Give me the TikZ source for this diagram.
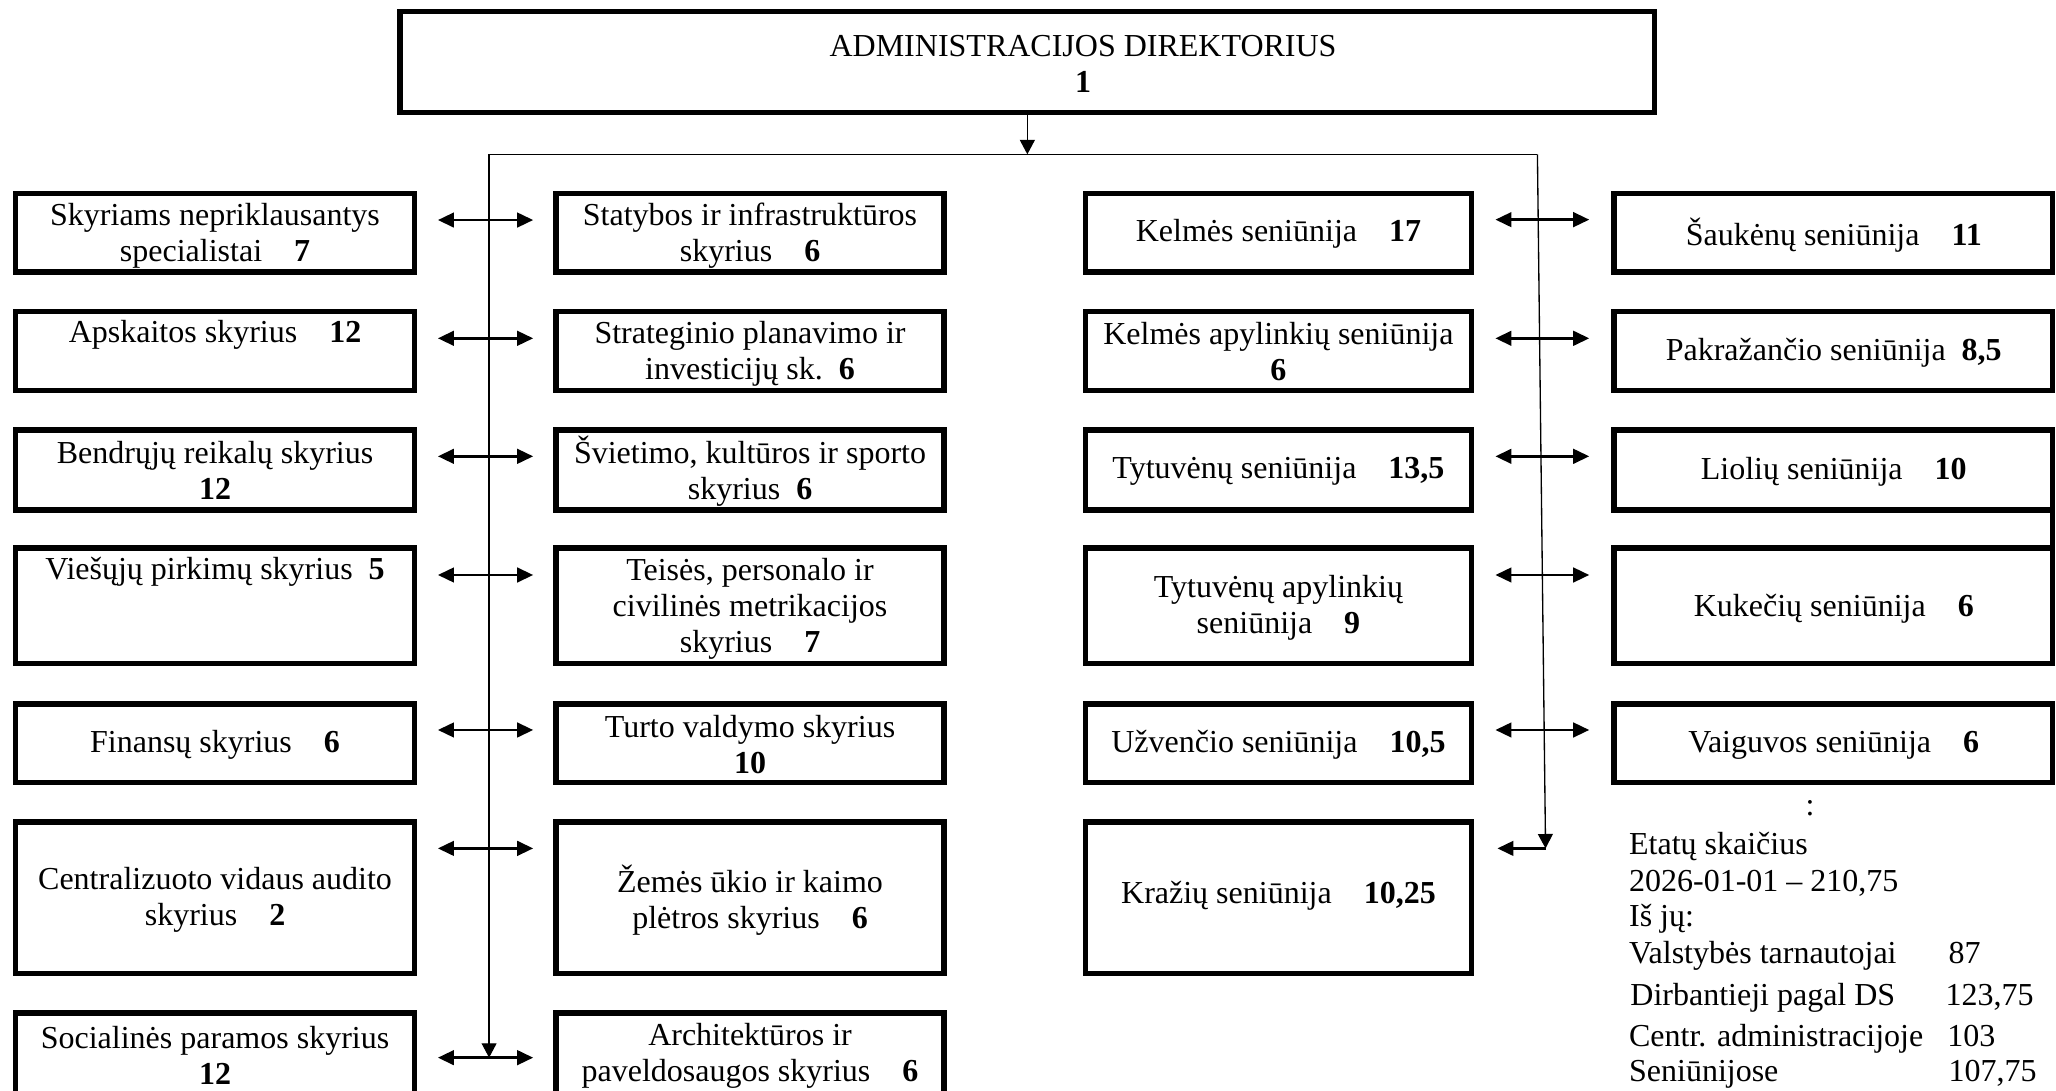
\documentclass[tikz,border=0pt]{standalone}
\usepackage{fontspec}
\setmainfont{Liberation Serif}
\usetikzlibrary{arrows.meta,fit}
\tikzset{
  box/.style={draw, line width=2pt, inner sep=0pt, outer sep=0pt},
  lbl/.style={align=center, font=\fontsize{12}{13.5}\selectfont, inner sep=0pt},
  txt/.style={font=\fontsize{12}{13.5}\selectfont, inner sep=0pt, anchor=base west},
  dbl/.style={line width=0.9pt, {Triangle[length=6pt,width=5.5pt]}-{Triangle[length=6pt,width=5.5pt]}},
  lefttip/.style={line width=0.9pt, -{Triangle[length=6pt,width=5.5pt]}},
  conn/.style={line width=0.5pt},
  tipdown/.style={-{Triangle[length=5.4pt,width=5.6pt]}}
}
\begin{document}
\begin{tikzpicture}[x=0.4917pt,y=-0.4917pt]
\useasboundingbox (0,0) rectangle (1568,832);
\clip (0,0) rectangle (1568,832);

% top box
\node[box, fit={(305,9)(1262,86)}] (dir) {};
\node[lbl] (dirt) at (826,48.7) {ADMINISTRACIJOS DIREKTORIUS\\\textbf{1}};

% column 1
\node[box, fit={(12,147.5)(316,207.5)}] (c11) {};
\node[box, fit={(12,237.7)(316,298)}] (c12) {};
\node[box, fit={(12,328)(316,389)}] (c13) {};
\node[box, fit={(12,418)(316,506)}] (c14) {};
\node[box, fit={(12,537)(316,597)}] (c15) {};
\node[box, fit={(12,627)(316,742.5)}] (c16) {};
\node[box, fit={(12,772.6)(316,880)}] (c17) {};
\node[lbl] (t11) at (164,179.5) {Skyriams nepriklausantys\\specialistai\quad\textbf{7}};
\node[lbl] (t12) at (164,255.5) {Apskaitos skyrius\quad\textbf{12}};
\node[lbl] (t13) at (164,359) {Bendrųjų reikalų skyrius\\\textbf{12}};
\node[lbl] (t14) at (164,436) {Viešųjų pirkimų skyrius\enspace\textbf{5}};
\node[lbl] (t15) at (164,568) {Finansų skyrius\quad\textbf{6}};
\node[lbl] (t16) at (164,686.4) {Centralizuoto vidaus audito\\skyrius\quad\textbf{2}};
\node[lbl] (t17) at (164,805) {Socialinės paramos skyrius\\\textbf{12}};

% column 2
\node[box, fit={(424,147.5)(720,207.5)}] (c21) {};
\node[box, fit={(424,237.7)(720,298)}] (c22) {};
\node[box, fit={(424,328)(720,389)}] (c23) {};
\node[box, fit={(424,418)(720,506)}] (c24) {};
\node[box, fit={(424,537)(720,597)}] (c25) {};
\node[box, fit={(424,627)(720,742.5)}] (c26) {};
\node[box, fit={(424,772.6)(720,880)}] (c27) {};
\node[lbl] (t21) at (572,179.5) {Statybos ir infrastruktūros\\skyrius\quad\textbf{6}};
\node[lbl] (t22) at (572,269.5) {Strateginio planavimo ir\\investicijų sk.\enspace\textbf{6}};
\node[lbl] (t23) at (572,359) {Švietimo, kultūros ir sporto\\skyrius\enspace\textbf{6}};
\node[lbl] (t24) at (572,464) {Teisės, personalo ir\\civilinės metrikacijos\\skyrius\quad\textbf{7}};
\node[lbl] (t25) at (572,567.5) {Turto valdymo skyrius\\\textbf{10}};
\node[lbl] (t26) at (572,686.4) {Žemės ūkio ir kaimo\\plėtros skyrius\quad\textbf{6}};
\node[lbl] (t27) at (572,805) {Architektūros ir\\paveldosaugos skyrius\quad\textbf{6}};

% column 3
\node[box, fit={(828,147.5)(1122,207.5)}] (c31) {};
\node[box, fit={(828,237.7)(1122,298)}] (c32) {};
\node[box, fit={(828,328)(1122,389)}] (c33) {};
\node[box, fit={(828,418)(1122,506)}] (c34) {};
\node[box, fit={(828,537)(1122,597)}] (c35) {};
\node[box, fit={(828,627)(1122,742.5)}] (c36) {};
\node[lbl] (t31) at (975,178) {Kelmės seniūnija\quad\textbf{17}};
\node[lbl] (t32) at (975,268) {Kelmės apylinkių seniūnija\\\textbf{6}};
\node[lbl] (t33) at (975,359.7) {Tytuvėnų seniūnija\quad\textbf{13,5}};
\node[lbl] (t34) at (975,463.3) {Tytuvėnų apylinkių\\seniūnija\quad\textbf{9}};
\node[lbl] (t35) at (975,568.2) {Užvenčio seniūnija\quad\textbf{10,5}};
\node[lbl] (t36) at (975,683) {Kražių seniūnija\quad\textbf{10,25}};

% column 4
\node[box, fit={(1231,147.5)(1565.5,207.5)}] (c41) {};
\node[box, fit={(1231,237.7)(1565.5,298)}] (c42) {};
\node[box, fit={(1231,328)(1565.5,389)}] (c43) {};
\node[box, fit={(1231,418)(1565.5,506)}] (c44) {};
\node[box, fit={(1231,537)(1565.5,597)}] (c45) {};
\node[lbl] (t41) at (1398.5,179.2) {Šaukėnų seniūnija\quad\textbf{11}};
\node[lbl] (t42) at (1398.5,269) {Pakražančio seniūnija\enspace\textbf{8,5}};
\node[lbl] (t43) at (1398.5,359.7) {Liolių seniūnija\quad\textbf{10}};
\node[lbl] (t44) at (1398.5,464) {Kukečių seniūnija\quad\textbf{6}};
\node[lbl] (t45) at (1398.5,568.2) {Vaiguvos seniūnija\quad\textbf{6}};
\draw[line width=2pt] (c43.south east) -- (c44.north east);

% main connectors
\coordinate (jn) at (783.5,117.7);
\coordinate (lt) at (373,117.7);
\coordinate (rt) at (1172.5,117.7);
\coordinate (lb) at (373,806.6);
\coordinate (rb) at (1178.7,647);
\coordinate (kr) at (1142,647);
\draw[conn, tipdown] (dir) -- (jn);
\draw[conn] (lt) -- (rt);
\draw[conn, tipdown] (lt) -- (lb);
\draw[conn, tipdown] (rt) -- (rb);
\draw[lefttip] (rb) -- (kr);

% double arrows
\foreach \n/\y in {1/167.8,2/258,3/348,4/438.5,5/556.7,6/647,7/806.6} {
  \coordinate (L\n a) at (334,\y);
  \coordinate (L\n b) at (406.6,\y);
  \draw[dbl] (L\n a) -- (L\n b);
}
\foreach \n/\y in {1/167.5,2/258,3/348,4/438.5,5/556.7} {
  \coordinate (R\n a) at (1140.5,\y);
  \coordinate (R\n b) at (1212,\y);
  \draw[dbl] (R\n a) -- (R\n b);
}

% summary text
\node[lbl, anchor=base] (colon) at (1380.4,621.6) {:};
\node[txt] (e1) at (1242,652) {Etatų skaičius};
\node[txt] (e2) at (1242,679.5) {2026-01-01 – 210,75};
\node[txt] (e3) at (1242,706.7) {Iš jų:};
\node[txt] (e4) at (1242,735) {Valstybės tarnautojai};
\node[txt] (e5) at (1243,767) {Dirbantieji pagal DS};
\node[txt] (e6) at (1242,798) {Centr. administracijoje};
\node[txt] (e7) at (1242,825) {Seniūnijose};
\node[txt] (n4) at (1485.6,735) {87};
\node[txt] (n5) at (1483.4,767) {123,75};
\node[txt] (n6) at (1484.7,798) {103};
\node[txt] (n7) at (1485.6,825) {107,75};
\end{tikzpicture}
\end{document}
